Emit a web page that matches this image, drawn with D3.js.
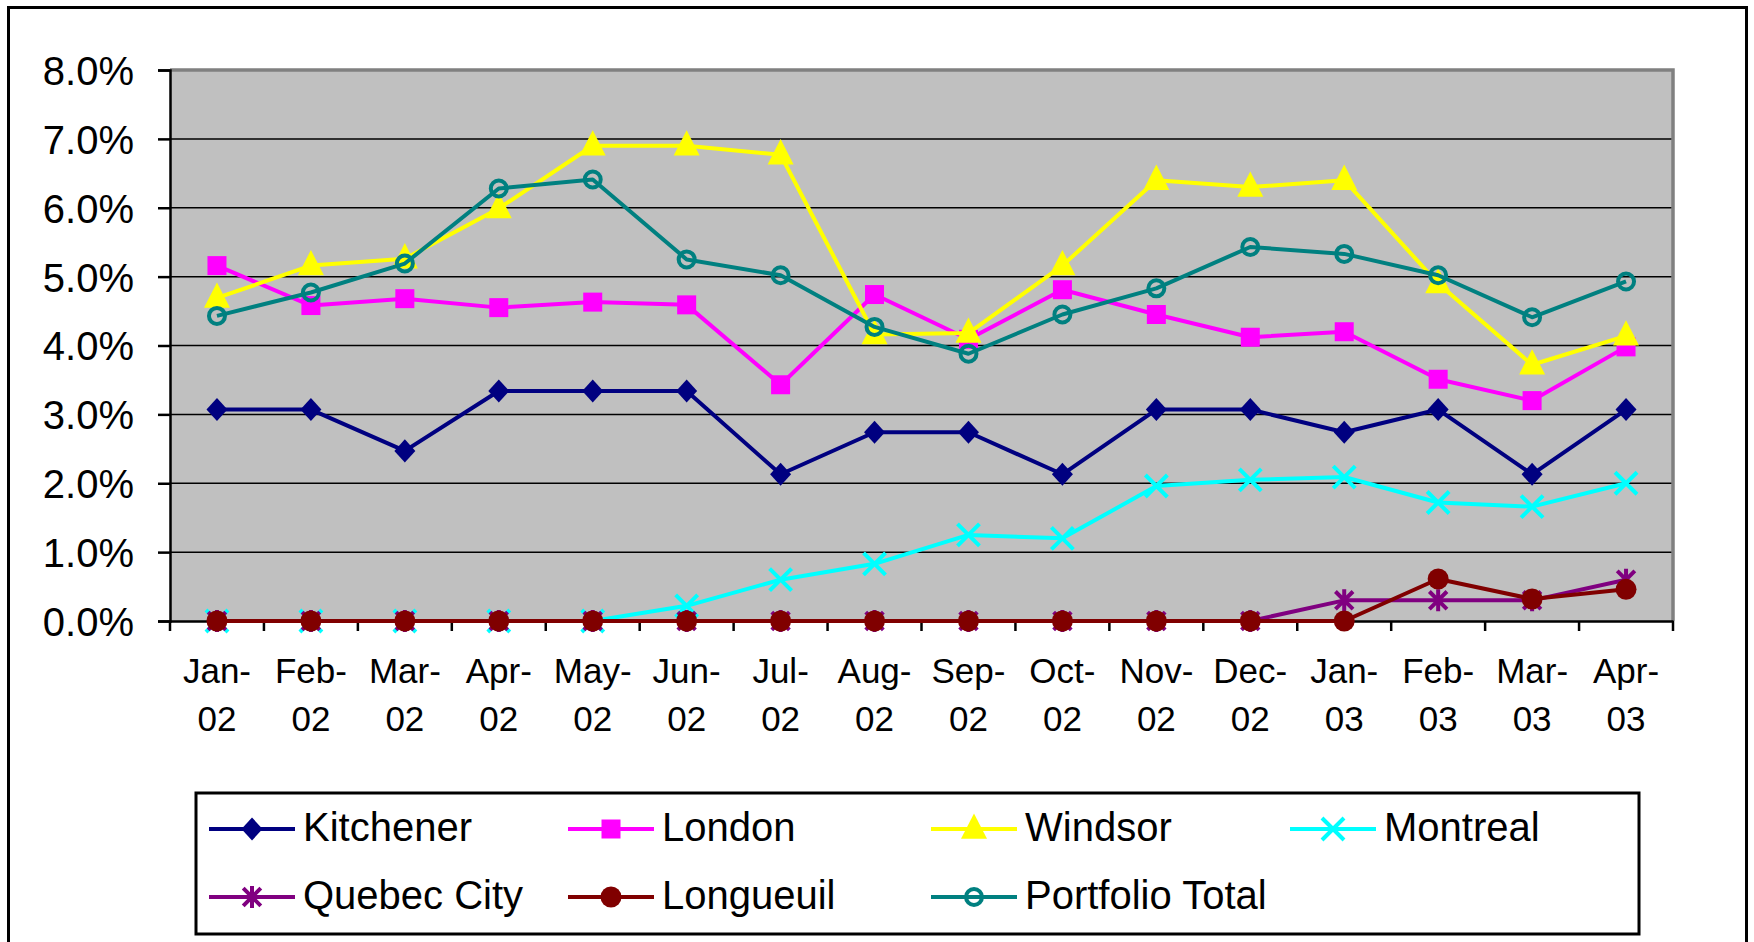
<!DOCTYPE html>
<html>
<head>
<meta charset="utf-8">
<style>
  body { margin: 0; background: #ffffff; }
  text { font-family: "Liberation Sans", Arial, sans-serif; fill: #000000; }
</style>
<script src="https://cdn.jsdelivr.net/npm/d3@7"></script>
</head>
<body>
<div id="chart"></div>
<script>

var months = ["Jan-02", "Feb-02", "Mar-02", "Apr-02", "May-02", "Jun-02", "Jul-02", "Aug-02",
              "Sep-02", "Oct-02", "Nov-02", "Dec-02", "Jan-03", "Feb-03", "Mar-03", "Apr-03"];

var yTicks = [0, 1, 2, 3, 4, 5, 6, 7, 8];

var kitchener  = [3.07, 3.07, 2.47, 3.34, 3.34, 3.34, 2.13, 2.74, 2.74, 2.13, 3.07, 3.07, 2.74, 3.07, 2.13, 3.07];
var london     = [5.16, 4.58, 4.68, 4.55, 4.63, 4.59, 3.43, 4.74, 4.09, 4.81, 4.45, 4.12, 4.20, 3.51, 3.20, 3.98];
var windsor    = [4.69, 5.16, 5.26, 5.99, 6.90, 6.90, 6.77, 4.16, 4.18, 5.16, 6.40, 6.30, 6.40, 4.90, 3.72, 4.14];
var montreal   = [0, 0, 0, 0, 0, 0.22, 0.60, 0.83, 1.25, 1.20, 1.96, 2.05, 2.09, 1.72, 1.66, 2.00];
var quebecCity = [0, 0, 0, 0, 0, 0, 0, 0, 0, 0, 0, 0, 0.30, 0.30, 0.30, 0.60];
var longueuil  = [0, 0, 0, 0, 0, 0, 0, 0, 0, 0, 0, 0, 0, 0.61, 0.32, 0.46];
var portfolio  = [4.43, 4.77, 5.19, 6.28, 6.41, 5.25, 5.02, 4.27, 3.88, 4.45, 4.83, 5.43, 5.33, 5.02, 4.41, 4.93];

var seriesNames  = ["Kitchener", "London", "Windsor", "Montreal", "Quebec City", "Longueuil", "Portfolio Total"];
var seriesValues = [kitchener, london, windsor, montreal, quebecCity, longueuil, portfolio];
var seriesColors = ["#000080", "#ff00ff", "#ffff00", "#00ffff", "#800080", "#800000", "#008080"];
var seriesMarks  = ["diamond", "square", "triangle", "x", "asterisk", "dot", "ring"];

var W = 1754, H = 942;
var plot = { left: 170, right: 1673, top: 70, bottom: 621 };

var svg = d3.select("#chart").append("svg")
    .attr("width", W)
    .attr("height", H);

// outer frame (bottom edge runs off the page)
svg.append("rect")
    .attr("x", 8.5).attr("y", 7.5)
    .attr("width", 1738).attr("height", 960)
    .attr("fill", "#ffffff")
    .attr("stroke", "#000000")
    .attr("stroke-width", 3);

var x = d3.scaleBand()
    .domain(months)
    .range([plot.left, plot.right]);

var y = d3.scaleLinear()
    .domain([0, 8])
    .range([plot.bottom, plot.top]);

var cx = function(i) { return x(months[i]) + x.bandwidth() / 2; };

svg.append("rect")
    .attr("x", plot.left).attr("y", plot.top)
    .attr("width", plot.right - plot.left)
    .attr("height", plot.bottom - plot.top)
    .attr("fill", "#c0c0c0");

// gridlines
svg.append("g")
    .selectAll("line")
    .data(yTicks.filter(d => d > 0 && d < 8))
    .enter().append("line")
    .attr("x1", plot.left).attr("x2", plot.right)
    .attr("y1", d => y(d)).attr("y2", d => y(d))
    .attr("stroke", "#000000")
    .attr("stroke-width", 1.5);

// grey top / right border
svg.append("path")
    .attr("d", "M" + plot.left + "," + plot.top + "H" + plot.right + "V" + plot.bottom)
    .attr("fill", "none")
    .attr("stroke", "#808080")
    .attr("stroke-width", 3.5);

// y axis
var yAxis = svg.append("g")
    .attr("transform", "translate(" + plot.left + ",0)")
    .call(d3.axisLeft(y).tickValues(yTicks).tickSize(12).tickPadding(24)
        .tickFormat(d => d3.format(".1f")(d) + "%"));
yAxis.select(".domain").attr("stroke", "#000000").attr("stroke-width", 2.5);
yAxis.selectAll(".tick line").attr("stroke", "#000000").attr("stroke-width", 2.5);
yAxis.selectAll("text")
    .attr("font-size", 40)
    .attr("fill", "#000000")
    .attr("dy", "0.36em")
    .attr("font-family", "Liberation Sans, Arial, sans-serif");

// x axis
var xAxis = svg.append("g")
    .attr("transform", "translate(0," + plot.bottom + ")")
    .call(d3.axisBottom(x).tickSize(0).tickFormat(""));
xAxis.select(".domain").attr("stroke", "#000000").attr("stroke-width", 2.5);
xAxis.selectAll(".tick").remove();

var bounds = months.map(m => x(m)).concat([plot.right]);
xAxis.selectAll("line.tk")
    .data(bounds)
    .enter().append("line")
    .attr("class", "tk")
    .attr("x1", d => d).attr("x2", d => d)
    .attr("y1", 0).attr("y2", 10)
    .attr("stroke", "#000000")
    .attr("stroke-width", 2.5);

var xl = svg.append("g").selectAll("text")
    .data(months)
    .enter().append("text")
    .attr("text-anchor", "middle")
    .attr("font-size", 35);
xl.append("tspan")
    .attr("x", d => x(d) + x.bandwidth() / 2)
    .attr("y", 683)
    .text(d => d.split("-")[0] + "-");
xl.append("tspan")
    .attr("x", d => x(d) + x.bandwidth() / 2)
    .attr("y", 731)
    .text(d => d.split("-")[1]);

// marker shapes
var shapes = {
    diamond: { draw: function(c, s) { var r = Math.sqrt(s) / 2;
        c.moveTo(0, -r * 1.1); c.lineTo(r, 0); c.lineTo(0, r * 1.1); c.lineTo(-r, 0); c.closePath(); } },
    square: { draw: function(c, s) { var r = Math.sqrt(s) / 2;
        c.moveTo(-r, -r); c.lineTo(r, -r); c.lineTo(r, r); c.lineTo(-r, r); c.closePath(); } },
    triangle: { draw: function(c, s) { var r = Math.sqrt(s) / 2;
        c.moveTo(0, -r * 1.2); c.lineTo(r, r * 0.75); c.lineTo(-r, r * 0.75); c.closePath(); } },
    x: { draw: function(c, s) { var r = Math.sqrt(s) / 2;
        c.moveTo(-r, -r); c.lineTo(r, r); c.moveTo(r, -r); c.lineTo(-r, r); } },
    asterisk: { draw: function(c, s) { var r = Math.sqrt(s) / 2;
        c.moveTo(-r * 0.8, -r * 0.8); c.lineTo(r * 0.8, r * 0.8);
        c.moveTo(r * 0.8, -r * 0.8); c.lineTo(-r * 0.8, r * 0.8);
        c.moveTo(0, -r); c.lineTo(0, r); } },
    dot: { draw: function(c, s) { var r = Math.sqrt(s) / 2;
        c.moveTo(r, 0); c.arc(0, 0, r, 0, 2 * Math.PI); } },
    ring: { draw: function(c, s) { var r = Math.sqrt(s) / 2;
        c.moveTo(r, 0); c.arc(0, 0, r, 0, 2 * Math.PI); } }
};
var markSize = { diamond: 21, square: 19, triangle: 26, x: 22, asterisk: 22, dot: 21, ring: 16 };

function styleMark(sel, kind, col) {
    if (kind === "x" || kind === "asterisk" || kind === "ring") {
        sel.attr("fill", "none").attr("stroke", col).attr("stroke-width", 4);
    } else {
        sel.attr("fill", col).attr("stroke", "none");
    }
}

var line = d3.line()
    .x((d, i) => cx(i))
    .y(d => y(d));

var lines = svg.append("g");

seriesNames.forEach(function(name, k) {
    var vals = seriesValues[k], col = seriesColors[k], kind = seriesMarks[k];
    var g = lines.append("g");
    g.append("path")
        .datum(vals)
        .attr("d", line)
        .attr("fill", "none")
        .attr("stroke", col)
        .attr("stroke-width", 4)
        .attr("stroke-linejoin", "round");
    var sym = d3.symbol().type(shapes[kind]).size(markSize[kind] * markSize[kind]);
    g.selectAll("path.mk")
        .data(vals)
        .enter().append("path")
        .attr("class", "mk")
        .attr("d", sym)
        .attr("transform", (d, i) => "translate(" + cx(i) + "," + y(d) + ")")
        .call(styleMark, kind, col);
});

// legend
svg.append("rect")
    .attr("x", 196).attr("y", 793)
    .attr("width", 1443).attr("height", 141)
    .attr("fill", "#ffffff")
    .attr("stroke", "#000000")
    .attr("stroke-width", 3);

var legX = [209, 568, 931, 1290];
var legY = [829, 897];

var leg = svg.append("g").selectAll("g")
    .data(seriesNames)
    .enter().append("g")
    .attr("transform", (d, i) => "translate(" + legX[i % 4] + "," + legY[Math.floor(i / 4)] + ")");

leg.append("line")
    .attr("x1", 0).attr("x2", 86)
    .attr("y1", 0).attr("y2", 0)
    .attr("stroke", (d, i) => seriesColors[i])
    .attr("stroke-width", 4);

leg.append("path")
    .attr("d", (d, i) => d3.symbol().type(shapes[seriesMarks[i]])
        .size(markSize[seriesMarks[i]] * markSize[seriesMarks[i]])())
    .attr("transform", "translate(43,0)")
    .each(function(d, i) { d3.select(this).call(styleMark, seriesMarks[i], seriesColors[i]); });

leg.append("text")
    .attr("x", 94)
    .attr("y", 12)
    .attr("font-size", 40)
    .text(d => d);

</script>
</body>
</html>
